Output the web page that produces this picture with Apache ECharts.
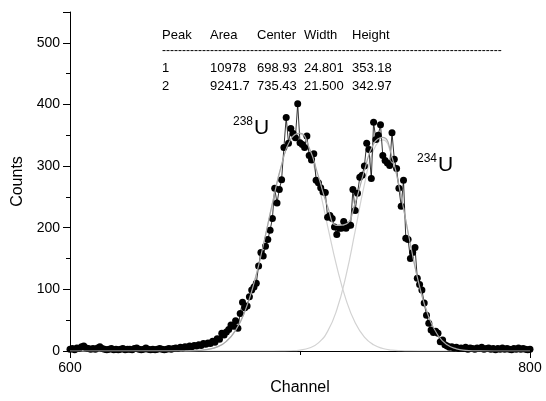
<!DOCTYPE html>
<html>
<head>
<meta charset="utf-8">
<script src="https://cdn.jsdelivr.net/npm/echarts@6/dist/echarts.min.js"></script>
<style>
  html, body { margin: 0; padding: 0; background: #fff; }
  #chart { width: 546px; height: 401px; }
</style>
</head>
<body>
<div id="chart"></div>
<script>
// measured spectrum, one value per channel starting at 600
const channelStart = 600;
const counts = [
  3, 4, 2, 5, 4, 7, 8, 5, 4, 3,
  4, 3, 5, 7, 4, 3, 2, 3, 4, 2,
  3, 2, 3, 4, 2, 3, 3, 2, 4, 5,
  3, 2, 3, 5, 3, 2, 3, 2, 3, 4,
  3, 2, 3, 4, 3, 4, 5, 4, 6, 5,
  7, 6, 8, 7, 9, 8, 10, 9, 12, 11,
  13, 12, 16, 14, 20, 19, 29, 26, 31, 35,
  42, 40, 49, 37, 61, 79, 70, 73, 88, 99,
  104, 110, 138, 160, 154, 170, 181, 196, 215, 264,
  240, 262, 278, 330, 379, 337, 361, 353, 346, 401,
  338, 335, 330, 349, 317, 310, 320, 277, 273, 265,
  258, 257, 217, 220, 215, 201, 189, 199, 199, 210,
  199, 204, 204, 262, 228, 256, 282, 285, 300, 337,
  327, 280, 371, 343, 350, 367, 317, 309, 305, 301,
  354, 311, 296, 264, 235, 277, 183, 181, 150, 160,
  168, 118, 108, 99, 78, 58, 45, 34, 30, 32,
  29, 15, 18, 10, 8, 6, 7, 5, 6, 4,
  5, 4, 6, 3, 5, 4, 3, 5, 4, 6,
  3, 4, 5, 3, 4, 2, 4, 3, 5, 3,
  4, 3, 2, 4, 3, 5, 3, 4, 3, 2, 3
];

// fitted curves
const fitX = [600, 650, 656, 660, 664, 668, 672, 676, 680, 684, 688, 692, 696, 700, 704, 708, 712, 716,
  720, 724, 728, 732, 736, 740, 744, 748, 752, 756, 760, 764, 768, 772, 778, 790, 800];
const peak1Fit = [0, 0.15, 0.9, 2.6, 6.7, 15.7, 33.4, 63.9, 110.2, 171.1, 239.5, 302.1, 343.5, 351.9, 324.9, 270.3, 202.7, 136.9,
  83.4, 45.7, 22.6, 10.1, 4.1, 1.5, 0.5, 0.1, 0, 0, 0, 0, 0, 0, 0, 0, 0];
const peak2Fit = [0, 0, 0, 0, 0, 0, 0, 0, 0, 0, 0, 0.1, 0.4, 1.5, 4.8, 13.2, 31.9, 66.9,
  122.4, 194.9, 270.1, 325.9, 342.5, 313.3, 249.6, 173.1, 104.5, 55.0, 25.2, 10.0, 3.5, 1.1, 0.1, 0, 0];
const sumFit = [0, 0.15, 0.9, 2.6, 6.7, 15.7, 33.4, 63.9, 110.2, 171.1, 239.5, 302.2, 343.9, 353.4, 329.7, 283.5, 234.6, 203.8,
  205.8, 240.6, 292.7, 336.0, 346.6, 314.8, 250.1, 173.2, 104.5, 55.0, 25.2, 10.0, 3.5, 1.1, 0.1, 0, 0];

// fit result table
const tableHeader = ["Peak", "Area", "Center", "Width", "Height"];
const tableRows = [
  ["1", "10978", "698.93", "24.801", "353.18"],
  ["2", "9241.7", "735.43", "21.500", "342.97"]
];

const FONT = "Arial, 'Liberation Sans', sans-serif";
const colX = [162, 210, 257, 304, 352];

const chart = echarts.init(document.getElementById("chart"));

const pairs = (xs, ys) => xs.map((x, i) => [x, ys[i]]);
const dataPoints = counts.map((c, i) => [channelStart + i, c]);

const graphics = [];
tableHeader.forEach((t, i) => {
  graphics.push({ type: "text", left: colX[i], top: 29, style: { text: t, font: "13px " + FONT, fill: "#000" } });
});
graphics.push({ type: "text", left: 162, top: 45, style: { text: "-".repeat(85), font: "12px " + FONT, fill: "#000" } });
tableRows.forEach((row, r) => {
  row.forEach((t, i) => {
    graphics.push({ type: "text", left: colX[i], top: 62 + r * 18, style: { text: t, font: "13px " + FONT, fill: "#000" } });
  });
});
// isotope labels
graphics.push({ type: "text", left: 233, top: 116, style: { text: "238", font: "12px " + FONT, fill: "#000" } });
graphics.push({ type: "text", left: 254, top: 118, style: { text: "U", font: "21px " + FONT, fill: "#000" } });
graphics.push({ type: "text", left: 417, top: 153, style: { text: "234", font: "12px " + FONT, fill: "#000" } });
graphics.push({ type: "text", left: 438, top: 155, style: { text: "U", font: "21px " + FONT, fill: "#000" } });

chart.setOption({
  animation: false,
  backgroundColor: "#fff",
  grid: { left: 70, right: 16, top: 12, bottom: 50, containLabel: false },
  xAxis: {
    type: "value",
    min: 600,
    max: 800,
    interval: 200,
    name: "Channel",
    nameLocation: "middle",
    nameGap: 24,
    nameTextStyle: { fontSize: 16, fontFamily: FONT, color: "#000", verticalAlign: "top" },
    axisLine: { show: true, onZero: false, lineStyle: { color: "#000", width: 1 } },
    axisTick: { show: true, inside: false, length: 7, lineStyle: { color: "#000" } },
    minorTick: { show: true, splitNumber: 2, length: 4, lineStyle: { color: "#000" } },
    axisLabel: { fontSize: 14, fontFamily: FONT, color: "#000", margin: 10 },
    splitLine: { show: false }
  },
  yAxis: {
    type: "value",
    min: 0,
    max: 550,
    interval: 100,
    name: "Counts",
    nameLocation: "middle",
    nameGap: 44,
    nameTextStyle: { fontSize: 16, fontFamily: FONT, color: "#000" },
    axisLine: { show: true, lineStyle: { color: "#000", width: 1 } },
    axisTick: { show: true, inside: false, length: 7, lineStyle: { color: "#000" } },
    minorTick: { show: true, splitNumber: 2, length: 4, lineStyle: { color: "#000" } },
    axisLabel: { fontSize: 14, fontFamily: FONT, color: "#000", margin: 10, showMaxLabel: false },
    splitLine: { show: false }
  },
  graphic: graphics,
  series: [
    {
      name: "peak1",
      type: "line",
      data: pairs(fitX, peak1Fit),
      smooth: true,
      symbol: "none",
      lineStyle: { color: "#d2d2d2", width: 1.2 },
      z: 1
    },
    {
      name: "peak2",
      type: "line",
      data: pairs(fitX, peak2Fit),
      smooth: true,
      symbol: "none",
      lineStyle: { color: "#d2d2d2", width: 1.2 },
      z: 1
    },
    {
      name: "counts",
      type: "line",
      data: dataPoints,
      symbol: "circle",
      symbolSize: 7,
      showAllSymbol: true,
      itemStyle: { color: "#000" },
      lineStyle: { color: "#000", width: 0.8 },
      z: 2
    },
    {
      name: "sum",
      type: "line",
      data: pairs(fitX, sumFit),
      smooth: true,
      symbol: "none",
      lineStyle: { color: "#a8a8a8", width: 1.2 },
      z: 3
    }
  ]
});
</script>
</body>
</html>
